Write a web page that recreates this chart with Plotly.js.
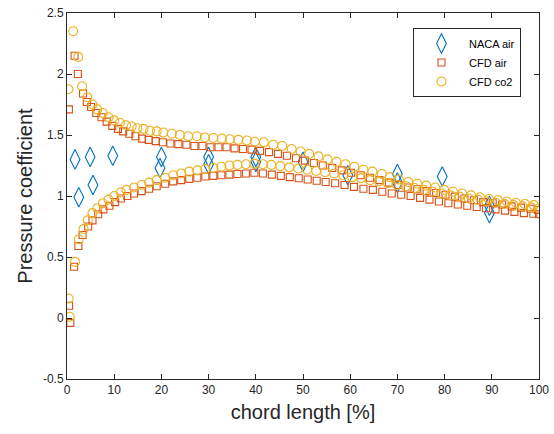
<!DOCTYPE html>
<html>
<head>
<meta charset="utf-8">
<script src="https://cdn.plot.ly/plotly-3.0.1.min.js"></script>
<style>html,body{margin:0;padding:0;background:#fff;}#chart{width:554px;height:434px;}</style>
</head>
<body>
<div id="chart"></div>
<script>
// NACA experimental data
var nacaX = [1.7, 2.5, 4.9, 5.5, 9.7, 20, 19.7, 30, 30, 40, 40, 50, 59.5, 70, 70, 79.5, 89.5, 89.5];
var nacaY = [1.30, 0.99, 1.32, 1.09, 1.33, 1.32, 1.23, 1.32, 1.26, 1.32, 1.28, 1.28, 1.17, 1.18, 1.11, 1.16, 0.92, 0.86];

// CFD air, upper branch
var airUpX = [0.4, 1.6, 2.3, 3.4, 4.2, 5.1, 6.2, 7.3, 8.4, 9.6, 10.8, 11.9, 13.2, 14.5, 15.9, 17.3, 18.8, 20.3, 21.9, 23.6, 25.3, 27.0, 28.7, 30.4, 32.1, 33.8, 35.5, 37.3, 39.1, 40.9, 42.8, 44.7, 46.6, 48.5, 50.4, 52.3, 54.2, 56.2, 58.2, 60.2, 62.2, 64.2, 66.2, 68.2, 70.2, 72.2, 74.2, 76.2, 78.2, 80.2, 82.2, 84.2, 86.2, 88.2, 90.2, 92.2, 94.2, 96.2, 98.2, 99.8];
var airUpY = [1.71, 2.15, 2.00, 1.84, 1.77, 1.73, 1.68, 1.645, 1.61, 1.575, 1.55, 1.53, 1.51, 1.49, 1.47, 1.46, 1.45, 1.44, 1.43, 1.425, 1.42, 1.41, 1.41, 1.40, 1.40, 1.40, 1.39, 1.385, 1.38, 1.37, 1.36, 1.345, 1.33, 1.31, 1.29, 1.27, 1.25, 1.23, 1.21, 1.19, 1.17, 1.15, 1.13, 1.11, 1.09, 1.07, 1.055, 1.04, 1.025, 1.01, 0.995, 0.98, 0.965, 0.95, 0.94, 0.93, 0.915, 0.905, 0.895, 0.885];

// CFD air, lower branch
var airLoX = [0.45, 0.7, 1.5, 2.4, 3.3, 4.5, 5.4, 6.6, 7.7, 9.0, 10.2, 11.4, 12.8, 14.2, 15.8, 17.4, 19.0, 20.8, 22.5, 24.2, 25.9, 27.6, 29.3, 31.0, 32.7, 34.4, 36.1, 37.9, 39.7, 41.5, 43.4, 45.3, 47.2, 49.1, 51.0, 52.9, 54.8, 56.8, 58.8, 60.8, 62.8, 64.8, 66.8, 68.8, 70.8, 72.8, 74.8, 76.8, 78.8, 80.8, 82.8, 84.8, 86.8, 88.8, 90.8, 92.8, 94.8, 96.8, 98.8, 100];
var airLoY = [0.10, -0.04, 0.42, 0.59, 0.68, 0.75, 0.80, 0.85, 0.89, 0.92, 0.95, 0.98, 1.00, 1.02, 1.04, 1.06, 1.08, 1.10, 1.12, 1.13, 1.14, 1.15, 1.16, 1.165, 1.17, 1.175, 1.18, 1.185, 1.19, 1.185, 1.175, 1.165, 1.155, 1.145, 1.135, 1.125, 1.115, 1.105, 1.09, 1.075, 1.06, 1.05, 1.035, 1.02, 1.01, 1.0, 0.985, 0.97, 0.955, 0.94, 0.93, 0.92, 0.91, 0.90, 0.89, 0.88, 0.87, 0.86, 0.855, 0.85];

// CFD co2, upper branch
var co2UpX = [0.3, 1.3, 2.4, 3.2, 4.3, 5.4, 6.4, 7.6, 8.8, 10.0, 11.2, 12.5, 13.7, 14.9, 16.2, 17.6, 19.0, 20.4, 22.2, 23.9, 25.7, 27.5, 29.2, 31.0, 32.8, 34.5, 36.3, 38.1, 39.8, 41.7, 43.7, 45.6, 47.6, 49.5, 51.3, 53.3, 55.2, 57.1, 59.0, 60.9, 62.8, 64.7, 66.7, 68.4, 70.3, 72.3, 74.2, 76.1, 78.0, 79.9, 81.8, 83.7, 85.6, 87.5, 89.4, 91.3, 93.2, 95.1, 97.0, 98.9];
var co2UpY = [1.875, 2.35, 2.14, 1.90, 1.81, 1.75, 1.71, 1.68, 1.645, 1.62, 1.60, 1.58, 1.57, 1.555, 1.55, 1.535, 1.53, 1.52, 1.51, 1.50, 1.49, 1.49, 1.48, 1.475, 1.47, 1.465, 1.46, 1.455, 1.445, 1.44, 1.42, 1.41, 1.385, 1.365, 1.345, 1.325, 1.30, 1.28, 1.26, 1.24, 1.215, 1.20, 1.18, 1.155, 1.135, 1.115, 1.10, 1.085, 1.07, 1.05, 1.035, 1.02, 1.005, 0.99, 0.975, 0.965, 0.955, 0.945, 0.935, 0.925];

// CFD co2, lower branch
var co2LoX = [0.35, 0.6, 1.7, 2.5, 3.5, 4.4, 5.4, 6.4, 7.6, 8.8, 10.0, 11.4, 12.6, 14.2, 15.8, 17.4, 19.0, 20.8, 22.5, 24.2, 25.9, 27.6, 29.3, 31.0, 32.7, 34.4, 36.1, 37.9, 39.7, 41.5, 43.3, 45.2, 47.1, 49.0, 50.9, 52.8, 54.7, 56.6, 58.5, 60.4, 62.3, 64.2, 66.1, 68.0, 69.9, 71.8, 73.7, 75.6, 77.5, 79.4, 81.3, 83.2, 85.1, 87.0, 88.9, 90.8, 92.7, 94.6, 96.5, 98.4, 100];
var co2LoY = [0.16, 0.01, 0.46, 0.645, 0.73, 0.80, 0.86, 0.90, 0.94, 0.97, 1.00, 1.03, 1.05, 1.07, 1.09, 1.11, 1.13, 1.15, 1.17, 1.185, 1.20, 1.21, 1.22, 1.23, 1.24, 1.25, 1.255, 1.26, 1.265, 1.26, 1.255, 1.245, 1.235, 1.225, 1.215, 1.205, 1.195, 1.185, 1.17, 1.155, 1.145, 1.13, 1.12, 1.105, 1.09, 1.08, 1.065, 1.05, 1.035, 1.02, 1.005, 0.995, 0.98, 0.97, 0.955, 0.945, 0.935, 0.925, 0.915, 0.905, 0.90];

var xTicks = [0, 10, 20, 30, 40, 50, 60, 70, 80, 90, 100];
var yTicks = [-0.5, 0, 0.5, 1, 1.5, 2, 2.5];
var yTickText = ['-0.5', '0', '0.5', '1', '1.5', '2', '2.5'];

var cBlue = '#0072BD', cOrange = '#D95319', cYellow = '#EDB120';

var traces = [
  {x: nacaX, y: nacaY, type: 'scatter', mode: 'markers', name: 'NACA air',
   marker: {symbol: 'diamond-tall-open', size: 14, color: cBlue, line: {width: 1.1, color: cBlue}}},
  {x: airUpX.concat(airLoX), y: airUpY.concat(airLoY), type: 'scatter', mode: 'markers', name: 'CFD air',
   marker: {symbol: 'square-open', size: 7, color: cOrange, line: {width: 1.1, color: cOrange}}},
  {x: co2UpX.concat(co2LoX), y: co2UpY.concat(co2LoY), type: 'scatter', mode: 'markers', name: 'CFD co2',
   marker: {symbol: 'circle-open', size: 9, color: cYellow, line: {width: 1.1, color: cYellow}}}
];

var axisCommon = {
  showline: true, linecolor: '#262626', linewidth: 1, mirror: 'allticks',
  ticks: 'inside', ticklen: 5, tickcolor: '#262626', tickwidth: 1,
  showgrid: false, zeroline: false,
  tickfont: {family: 'Liberation Sans, Arial, sans-serif', size: 12, color: '#262626'}
};

var layout = {
  width: 554, height: 434,
  margin: {l: 67, r: 15, t: 13, b: 55},
  paper_bgcolor: '#fff', plot_bgcolor: '#fff',
  showlegend: true,
  xaxis: Object.assign({}, axisCommon, {
    range: [0, 100], tickvals: xTicks, ticktext: xTicks.map(String),
    title: {text: 'chord length [%]', font: {family: 'Liberation Sans, Arial, sans-serif', size: 20, color: '#262626'}, standoff: 8}
  }),
  yaxis: Object.assign({}, axisCommon, {
    range: [-0.5, 2.5], tickvals: yTicks, ticktext: yTickText,
    title: {text: 'Pressure coefficient', font: {family: 'Liberation Sans, Arial, sans-serif', size: 20, color: '#262626'}, standoff: 4}
  }),
  legend: {
    x: 0.733, y: 0.959, xanchor: 'left', yanchor: 'top',
    bgcolor: '#fff', bordercolor: '#262626', borderwidth: 1,
    font: {family: 'Liberation Sans, Arial, sans-serif', size: 11, color: '#000'},
    tracegroupgap: 0, itemwidth: 45
  }
};

Plotly.newPlot('chart', traces, layout, {displayModeBar: false, staticPlot: true});
</script>
</body>
</html>
